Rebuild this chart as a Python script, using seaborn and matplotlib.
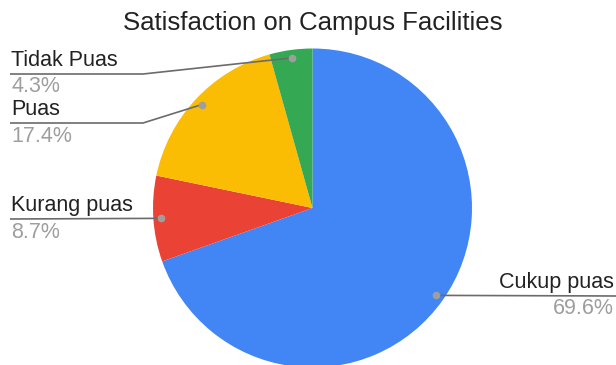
import numpy as np
import matplotlib
matplotlib.use("Agg")
import matplotlib.pyplot as plt
import seaborn as sns

# Survey responses
categories = ["Cukup puas", "Kurang puas", "Puas", "Tidak Puas"]
counts = [16, 2, 4, 1]
colors = ["#4285F4", "#EA4335", "#FBBC04", "#34A853"]
title = "Satisfaction on Campus Facilities"

sns.set_theme(style="white")
plt.rcParams["font.family"] = ["Liberation Sans", "DejaVu Sans"]

W, H = 616, 365
fig = plt.figure(figsize=(W / 100, H / 100), dpi=100)
ax = fig.add_axes([0, 0, 1, 1])


def py(y):
    # convert top-down pixel row into axis y
    return H - y


cx, cy, R = 312.5, py(208), 159.5
palette = sns.color_palette(colors)
ax.pie(counts, colors=palette, startangle=90, counterclock=False,
       center=(cx, cy), radius=R, frame=True,
       wedgeprops=dict(linewidth=0))
ax.set_xlim(0, W)
ax.set_ylim(0, H)
ax.set_aspect("auto")
ax.axis("off")

total = sum(counts)
fracs = np.array(counts) / total
ends = np.cumsum(fracs)
mids = ends - fracs / 2

# label layout: (text x, line y, align, elbow x or None, line end x)
layout = {
    "Cukup puas": (614, 296, "right", None, W),
    "Kurang puas": (11, 219, "left", None, 10),
    "Puas": (11, 123, "left", 143, 10),
    "Tidak Puas": (11, 74, "left", 143, 10),
}

line_col = "#6b6b6b"
for name, frac, mid in zip(categories, fracs, mids):
    ang = np.deg2rad(90 - mid * 360)
    dx, dy = cx + 0.95 * R * np.cos(ang), cy + 0.95 * R * np.sin(ang)
    tx, ly, ha, elbow, endx = layout[name]
    if elbow is None:
        xs, ys = [dx, endx], [dy, py(ly)]
    else:
        xs, ys = [dx, elbow, endx], [dy, py(ly), py(ly)]
    ax.plot(xs, ys, color=line_col, lw=1.2, solid_capstyle="butt", zorder=3)
    ax.plot([dx], [dy], "o", ms=5.5, color="#9e9e9e", mec="none", zorder=4)
    ax.text(tx, py(ly - 8), name, ha=ha, va="baseline",
            fontsize=15.5, color="#222222")
    ax.text(tx, py(ly + 18.5), f"{frac * 100:.1f}%", ha=ha, va="baseline",
            fontsize=15.5, color="#9e9e9e")

ax.text(313, py(30), title, ha="center", va="baseline",
        fontsize=18.5, color="#222222")

fig.savefig("out.png", dpi=100, facecolor="white")
